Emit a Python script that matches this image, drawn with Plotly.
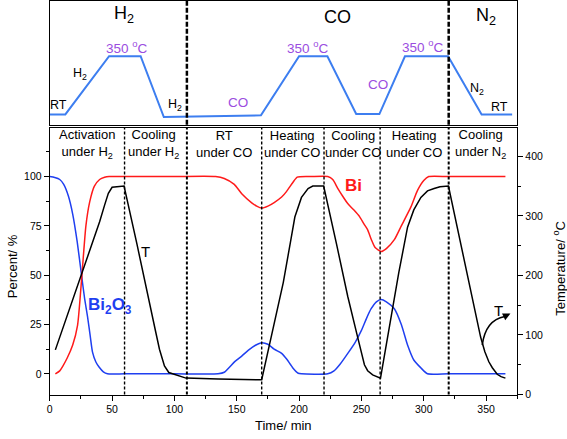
import plotly.graph_objects as go

# ---------------- data ----------------
# Bi (percent)
t_bi = [4.5, 8, 10.4, 14, 18.4, 22.3, 25.8, 29, 32, 35.7, 40, 44, 47.6, 60, 100, 133, 140, 148, 154, 162, 166, 170,
        175, 180, 186, 190, 195, 198.5, 210, 223, 227, 231, 235, 239, 244, 248.5, 252, 255, 258, 261, 265.8,
        270, 276.4, 282, 289.7, 295, 300, 304, 320, 365.5]
bi = [0, 1.5, 3.8, 8, 14.6, 24.6, 50, 75, 87, 95, 98.5, 99.6, 100, 100, 100, 100, 99, 96, 91.3, 86.7, 85, 84,
      85, 86.8, 89.6, 92.5, 97, 99.7, 100, 100, 98.5, 94, 90, 86.3, 83, 79.7, 76, 73, 68, 64, 62,
      63.5, 68, 75, 84.6, 93, 98, 100, 100, 100]

# Bi2O3 (percent)
t_bio = [0, 4, 8, 11.2, 15, 18.4, 22, 25.5, 28, 30.3, 32.5, 34.3, 37, 39.7, 43, 46.3, 60, 100, 135, 140, 148.6,
         154, 159.4, 165, 170, 175, 180, 186, 190, 195, 199.3, 202, 223, 228, 233, 239.2, 245, 250, 254,
         257.8, 262, 265.8, 270, 276.4, 282, 287, 292, 297.7, 303, 320, 365.5]
bio = [100, 99.5, 98.5, 96, 90, 81, 67, 50, 38, 29, 19, 11, 6, 3.3, 1, 0, 0, 0, 0, 0.8, 6.3,
       9, 12, 14.5, 15.8, 15, 12.5, 10.4, 7.5, 3, 0.3, 0, 0, 1.5, 5, 10.5, 16, 22, 28,
       33, 36.5, 37.7, 36.5, 33, 25, 14.6, 7, 3, 0, 0, 0]

# Temperature (deg C)
t_temp = [4.5, 25.5, 40, 44, 47, 50, 59.6, 70, 80, 85, 88, 90.2, 92, 95.5, 100.8, 109.3, 135, 170,
          180, 187.3, 193, 196.6, 201.9, 207.2, 211, 219.7, 230, 239, 247, 250, 252.4, 255, 259, 265.3,
          273.7, 280, 287, 292, 297.7, 303, 308.3, 313, 319.8, 330, 339, 345.6, 349, 352.2, 355, 358.9, 362, 365.5]
temp = [75, 200, 290, 318, 338, 348, 350, 252, 150, 105, 76, 61, 48, 37, 33, 27.6, 26, 24.8,
        119, 188, 255, 298, 331, 346, 350, 350, 253, 165, 96, 68, 50, 40, 33, 27.6,
        132, 205, 281, 310, 331, 342, 346, 349, 350, 252, 165, 96.5, 72, 55, 45, 34, 30, 27.6]

# Upper panel: temperature programme
t_prog = [0, 12.5, 47.6, 72.9, 91.5, 169.4, 200, 222.7, 245.8, 264.4, 284.9, 319.5, 346.4, 370.9]
prog = [25, 25, 350, 350, 10, 19.5, 350, 350, 27, 27, 350, 350, 25, 25]

phase_bounds = [60, 110, 170, 220, 265, 320]
gas_bounds = [110, 320]
phase_labels = ["Activation<br>under H<sub>2</sub>", "Cooling<br>under H<sub>2</sub>", "RT<br>under CO",
                "Heating<br>under CO", "Cooling<br>under CO", "Heating<br>under CO", "Cooling<br>under N<sub>2</sub>"]
phase_x = [29.5, 83.6, 139.4, 194.7, 243.2, 292.1, 345.6]

FONT = "Liberation Sans, Arial, sans-serif"
RED = "#ff1a1a"
BLUE = "#1f3ff0"
PBLUE = "#3d7ef0"
PURPLE = "#9b4ddf"

fig = go.Figure()
fig.add_trace(go.Scatter(x=t_prog, y=prog, mode="lines", line=dict(color=PBLUE, width=2),
                         xaxis="x2", yaxis="y3", showlegend=False, hoverinfo="skip"))
fig.add_trace(go.Scatter(x=t_bio, y=bio, mode="lines", line=dict(color=BLUE, width=1.5, shape="spline", smoothing=0.6),
                         xaxis="x", yaxis="y", showlegend=False))
fig.add_trace(go.Scatter(x=t_bi, y=bi, mode="lines", line=dict(color=RED, width=1.5, shape="spline", smoothing=0.6),
                         xaxis="x", yaxis="y", showlegend=False))
fig.add_trace(go.Scatter(x=t_temp, y=temp, mode="lines", line=dict(color="black", width=1.5),
                         xaxis="x", yaxis="y2", showlegend=False))

xdom = [47 / 567, 517 / 567]
low_dom = [1 - 400 / 439, 1 - 129.5 / 439]
up_dom = [1 - 126.5 / 439, 1 - 1 / 439]

axis_common = dict(showgrid=False, zeroline=False, linecolor="black", linewidth=1,
                   tickfont=dict(family=FONT, size=10.5, color="black"), tickcolor="black")

fig.update_layout(
    width=567, height=439, margin=dict(l=0, r=0, t=0, b=0),
    paper_bgcolor="white", plot_bgcolor="white",
    font=dict(family=FONT, color="black"),
    xaxis=dict(domain=xdom, anchor="y", range=[0, 375], showline=True, mirror=True,
               ticks="outside", ticklen=5, tickvals=[0, 50, 100, 150, 200, 250, 300, 350],
               minor=dict(ticks="outside", ticklen=3, tick0=0, dtick=25, tickcolor="black"),
               **axis_common),
    yaxis=dict(domain=low_dom, anchor="x", range=[-10.5, 124.75], showline=True,
               ticks="outside", ticklen=5, tickvals=[0, 25, 50, 75, 100],
               minor=dict(ticks="outside", ticklen=3, tick0=0, dtick=12.5, tickcolor="black"),
               **axis_common),
    yaxis2=dict(domain=low_dom, anchor="x", overlaying="y", side="right", range=[0, 448],
                showline=True, ticks="outside", ticklen=5, tickvals=[0, 100, 200, 300, 400],
                minor=dict(ticks="outside", ticklen=3, tick0=0, dtick=50, tickcolor="black"),
                **axis_common),
    xaxis2=dict(domain=xdom, anchor="y3", range=[0, 375], showline=True, mirror=True,
                showticklabels=False, ticks="", showgrid=False, zeroline=False,
                linecolor="black", linewidth=1),
    yaxis3=dict(domain=up_dom, anchor="x2", range=[-33, 659], showline=True, mirror=True,
                showticklabels=False, ticks="", showgrid=False, zeroline=False,
                linecolor="black", linewidth=1),
)

shapes = []
for b in phase_bounds:
    w = 2 if b in gas_bounds else 1.4
    shapes.append(dict(type="line", xref="x", yref="y domain", x0=b, x1=b, y0=0, y1=1,
                       line=dict(color="black", width=w, dash="3px,2px")))
for b in gas_bounds:
    shapes.append(dict(type="line", xref="x2", yref="y3 domain", x0=b, x1=b, y0=0, y1=1,
                       line=dict(color="black", width=2.5, dash="5px,2px")))
# curved arrow for T
shapes.append(dict(type="path", xref="x", yref="y2",
                   path="M 346.9,82.8 Q 349.5,125 365,131",
                   line=dict(color="black", width=1.5)))
fig.update_layout(shapes=shapes)

ann = []
for lab, xx in zip(phase_labels, phase_x):
    ann.append(dict(x=xx, y=116.7, xref="x", yref="y", text=lab, showarrow=False,
                    xanchor="center", yanchor="middle",
                    font=dict(family=FONT, size=13, color="black"), align="center"))

def up(x, y, text, size, color):
    ann.append(dict(x=x, y=y, xref="x2", yref="y3", text=text, showarrow=False,
                    xanchor="center", yanchor="middle",
                    font=dict(family=FONT, size=size, color=color)))

up(59.6, 581, "H<sub>2</sub>", 18, "black")
up(231.2, 570, "CO", 18, "black")
up(349.6, 570, "N<sub>2</sub>", 18, "black")
for xx, yy in [(62.2, 401), (207.5, 400), (299, 405)]:
    up(xx, yy, "350 <sup>o</sup>C", 13.5, PURPLE)
up(150.6, 91, "CO", 13.5, PURPLE)
up(263.1, 190, "CO", 13.5, PURPLE)
up(7.2, 80, "RT", 12.5, "black")
up(24.5, 251, "H<sub>2</sub>", 12.5, "black")
up(100.6, 80, "H<sub>2</sub>", 12.5, "black")
up(342.4, 168, "N<sub>2</sub>", 12.5, "black")
up(360.7, 64, "RT", 12.5, "black")

def lab(x, y, yref, text, size, color):
    ann.append(dict(x=x, y=y, xref="x", yref=yref, text=text, showarrow=False,
                    xanchor="center", yanchor="middle",
                    font=dict(family=FONT, size=size, color=color)))

lab(76.6, 62.2, "y", "T", 15, "black")
lab(244, 95.5, "y", "<b>Bi</b>", 17, RED)
lab(48.7, 34.6, "y", "<b>Bi<sub>2</sub>O<sub>3</sub></b>", 17, BLUE)
lab(360.2, 140.7, "y2", "T", 15, "black")
ann.append(dict(x=369.5, y=136, xref="x", yref="y2", ax=364, ay=130.5, axref="x", ayref="y2",
                text="", showarrow=True, arrowhead=2, arrowsize=1, arrowwidth=1.5, arrowcolor="black"))

# axis titles
def ptext(x, y, text, angle=0):
    ann.append(dict(x=x / 567, y=1 - y / 439, xref="paper", yref="paper", text=text, textangle=angle,
                    xanchor="center", yanchor="middle", showarrow=False,
                    font=dict(family=FONT, size=13, color="black")))

ptext(9, 270, "Percent/ %", -90)
ptext(559, 272.5, "Temperature/ <sup>o</sup>C", -90)
ptext(281.5, 431.5, "Time/ min")
fig.update_layout(annotations=ann)

fig.write_html("out.html", config={"displayModeBar": False},
               post_script="document.body.style.margin='0px';document.body.style.overflow='hidden';")
